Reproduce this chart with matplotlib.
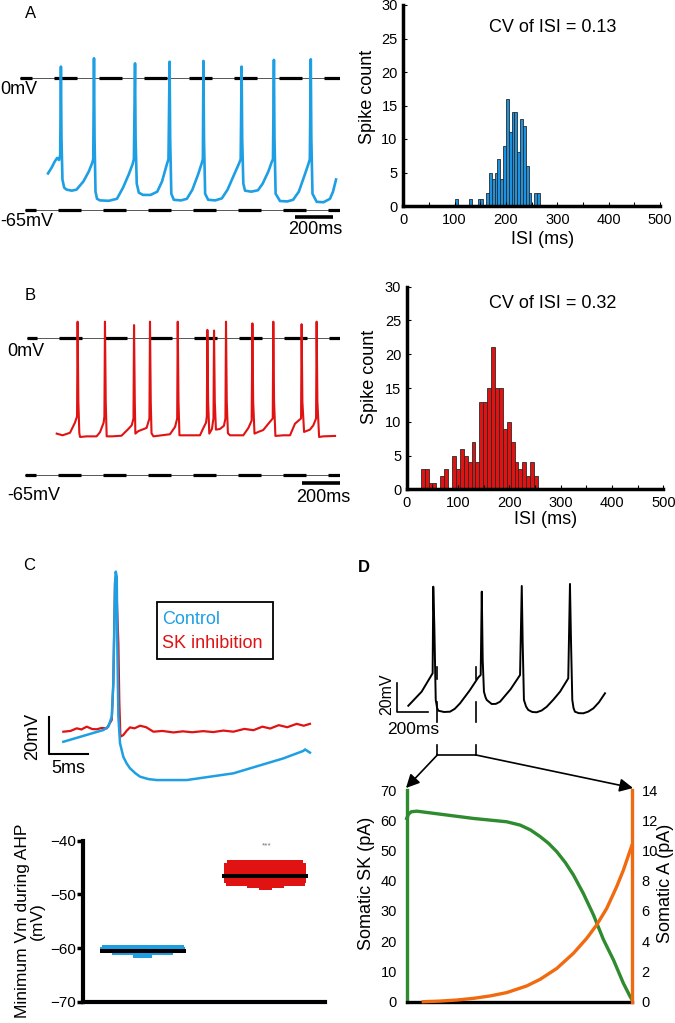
import numpy as np
import matplotlib.pyplot as plt
from matplotlib.patches import Rectangle

plt.rcParams['font.family'] = ['Liberation Sans', 'DejaVu Sans']
plt.rcParams['lines.scale_dashes'] = False

# ---------------- data ----------------
# A: control firing (time ms, membrane potential mV)
trace_a_t = [0, 20, 35, 48, 58, 64, 68, 71, 76, 85, 98, 125, 150, 186, 215, 232, 238,
             242, 245, 250, 258, 274, 320, 363, 395, 425, 445, 452,
             458, 461, 467, 478, 500, 540, 575, 600, 624, 634,
             640, 643, 649, 662, 700, 731, 760, 790, 809, 815,
             818, 821, 827, 843, 880, 915, 945, 980, 1006, 1014,
             1019, 1022, 1028, 1037, 1070, 1105, 1130, 1160, 1177, 1184,
             1189, 1192, 1198, 1221, 1260, 1290, 1320, 1350, 1370, 1378,
             1383, 1386, 1392, 1414, 1450, 1484, 1500, 1516]
trace_a_v = [-47, -44, -41.2, -39.4, -40.4, -38, 5.6, -30, -50, -54, -55, -55.5, -55, -51, -46, -42, -40,
             9.7, -30, -56, -59.5, -60.3, -60.5, -59.5, -54, -47.5, -42.5, -40,
             7.2, -30, -52, -56.5, -57.6, -57.6, -56, -51, -43, -40,
             8.0, -30, -57, -60, -60.3, -59.5, -55, -47.5, -42, -40,
             8.4, -30, -57, -60, -60.3, -59.3, -55, -47.5, -42, -40,
             5.6, -30, -52, -55.5, -56, -55.3, -52, -46, -41.5, -40,
             8.9, -30, -57, -60.6, -60.8, -60, -56, -48, -42.5, -40,
             9.2, -30, -57, -61, -61.2, -59.5, -56, -50]

# B: SK inhibition firing
trace_b_t = [9, 40, 79, 105, 116, 119, 123, 128, 132, 167, 219, 237, 256, 260,
             263, 267, 272, 300, 350, 386, 404, 413, 416, 420, 423, 439, 482, 497,
             500, 504, 508, 518, 605, 632, 643, 646, 650, 655, 693, 763, 781, 795, 799,
             802, 806, 812, 826, 834, 837, 841, 847, 868, 889, 897,
             900, 904, 910, 921, 991, 1018, 1035, 1039, 1043, 1050, 1070, 1096, 1123, 1146,
             1149, 1153, 1160, 1202, 1237, 1263, 1295, 1298, 1302, 1311, 1342, 1360, 1374,
             1377, 1381, 1390, 1412, 1474]
trace_b_v = [-45.2, -46, -44.8, -40, -37, 7.9, -30, -45, -46.8, -46.5, -46.5, -44.5, -40, -37,
             7.9, -30, -46.5, -46.5, -46.2, -43, -41.2, -38, 6.3, -30, -45.2, -44, -42.5, -38,
             7.9, -30, -45, -46.5, -45.5, -42, -38, 7.9, -30, -46, -46, -46, -42.5, -40, -37,
             4.0, -30, -45.2, -43, -38, 3.7, -30, -43.3, -43, -41.5, -38,
             7.9, -30, -45, -46, -46, -42.5, -39, 7.1, -30, -45.2, -44.4, -43.5, -40.5, -38,
             7.9, -30, -46.3, -46, -46, -40.5, -38, 6.7, -30, -44.4, -43.3, -41.2, -38,
             7.9, -30, -46.8, -46.5, -46.3]

# ISI histograms (30 bins over the data range)
hist_a_counts = [1, 0, 0, 0, 0, 1, 0, 0, 1, 1, 0, 2, 5, 4, 5, 7, 4, 9, 16, 11,
                 14, 14, 8, 13, 12, 6, 2, 0, 2, 2]
hist_a_range = (100.7, 266.2)
hist_b_counts = [3, 3, 1, 1, 0, 2, 3, 0, 5, 3, 6, 5, 4, 7, 4, 13, 13, 15, 21, 15,
                 15, 9, 10, 7, 4, 3, 4, 2, 4, 2]
hist_b_range = (27.3, 255.8)
cv_a = 0.13
cv_b = 0.32

# C: single spike, control vs SK inhibition (ms from peak, mV)
c_blue_t = [-6.72, -1.59, -0.95, -0.51, -0.31, -0.09, 0.0, 0.13, 0.21, 0.34, 0.55, 0.97,
            1.4, 1.83, 2.5, 3.12, 4.2, 5.26, 9.1, 15.08, 21.49, 24.05, 24.27, 24.9]
c_blue_v = [-52.4, -46.1, -44.3, -39.0, -21.1, 32.5, 38.7, 36.0, -3.2, -39.0, -53.2, -60.4,
            -64.0, -66.6, -69.2, -71.1, -72.4, -72.9, -72.9, -69.3, -61.3, -57.3, -56.5, -58.2]
c_red_t = [-6.72, -5.8, -5.0, -4.4, -3.72, -3.0, -2.44, -1.8, -1.15, -0.51, -0.31, -0.09, 0.04,
           0.34, 0.46, 0.6, 0.97, 1.4, 1.83, 2.4, 3.12, 3.9, 4.83, 6.0, 7.4, 8.6, 9.8, 11.2, 12.5,
           13.8, 15.08, 16.5, 17.65, 18.8, 19.8, 20.9, 22.0, 23.2, 24.1, 24.9]
c_red_v = [-47.0, -46.6, -45.2, -45.8, -44.3, -45.6, -45.7, -45.0, -45.2, -40.7, -21.0, 32.5,
           36.0, 0.0, -30.9, -49.7, -48.8, -46.5, -44.7, -45.2, -43.8, -44.6, -47.0, -46.6,
           -47.4, -46.8, -47.3, -46.7, -47.2, -46.4, -47.0, -45.5, -46.2, -44.3, -45.3, -43.5,
           -44.6, -42.8, -43.8, -42.8]

# C: minimum Vm during AHP (value rows and number of cells per row)
ctrl_levels = [-59.8, -60.2, -60.6, -61.0, -61.4]
ctrl_counts = [27, 28, 28, 20, 6]
ctrl_mean = -60.5
sk_levels = [-44.0, -44.5, -45.0, -45.5, -46.0, -46.5, -47.0, -47.5, -48.0, -48.4, -48.8]
sk_counts = [25, 27, 27, 27, 27, 27, 27, 27, 26, 12, 4]
sk_mean = -46.5

# D: model trace (ms, mV)
trace_d_t = [0, 86, 157, 161, 168, 177, 186, 194, 230, 269, 300, 334, 395, 452, 467, 474, 480,
             488, 498, 506, 538, 565, 592, 660, 721, 732, 738, 746, 760, 774, 800, 828, 860,
             893, 935, 979, 1032, 1043, 1050, 1058, 1066, 1075, 1100, 1129, 1160, 1194, 1230, 1269]
trace_d_v = [-55.9, -46.2, -33.5, 26.2, -1.4, -51.9, -57.5, -59.3, -60.2, -60, -58, -54.2, -45.5,
             -36.3, -34.7, 22.8, -24.3, -46.2, -50, -51.9, -54.7, -54.6, -53.1, -44.5, -34.7,
             26.7, -12.8, -51.9, -56.5, -58.8, -60.2, -60.4, -59.2, -56.6, -51.8, -46.2, -37,
             28.1, -12.8, -51.9, -57.5, -60, -61, -61.1, -60, -57.7, -53.5, -47.3]

# D: currents during one interspike interval (normalised time)
sk_x = [0.0, 0.008, 0.02, 0.045, 0.15, 0.296, 0.444, 0.504, 0.55, 0.593, 0.63, 0.667, 0.705,
        0.741, 0.785, 0.830, 0.874, 0.919, 0.963, 0.993, 1.0]
sk_y = [60.6, 62.0, 62.8, 63.0, 62.0, 60.6, 59.5, 58.4, 56.8, 54.6, 52.4, 49.6, 46.0,
        41.9, 35.8, 28.7, 20.6, 13.8, 6.1, 1.7, 0.8]
ka_x = [0.074, 0.148, 0.222, 0.296, 0.37, 0.444, 0.533, 0.593, 0.667, 0.741, 0.8, 0.844, 0.889,
        0.933, 0.963, 0.993, 1.0]
ka_y = [0.0, 0.04, 0.11, 0.22, 0.38, 0.6, 1.04, 1.48, 2.2, 3.2, 4.19, 5.07, 6.17, 7.6, 8.7,
        10.0, 10.3]

BLUE = '#1E9FE4'
BAR_BLUE = '#1C93E0'
RED = '#E01212'
GREEN = '#2E8B2E'
ORANGE = '#F06A10'

W, H = 675, 1023
fig = plt.figure(figsize=(W / 100, H / 100), dpi=100)


def px_axes(l, t, r, b):
    return fig.add_axes([l / W, 1 - b / H, (r - l) / W, (b - t) / H])


def ref_line(ax, v, t0, offset_px):
    x1 = ax.get_xlim()[1]
    ax.plot([t0, x1], [v, v], color='#555555', lw=0.7)
    ax.plot([t0, x1], [v, v], color='k', lw=2.3,
            linestyle=(offset_px * 0.72, (23 * 0.72, 22 * 0.72)))


# ---------------- A / B traces ----------------
axA = px_axes(20, 40, 340, 240)
axA.set_xlim(-147.4, 1536.8)
axA.set_ylim(-79.8, 18.7)
axA.axis('off')
ref_line(axA, 0, -147.4, 11)
ref_line(axA, -65, -121, 12)
axA.plot(trace_a_t, trace_a_v, color=BLUE, lw=1.9, solid_joinstyle='round')
axA.plot([1300, 1500], [-68.5, -68.5], color='k', lw=2.6, solid_capstyle='butt')

axB = px_axes(20, 300, 340, 500)
axB.set_xlim(-184.2, 1500)
axB.set_ylim(-76.7, 18.2)
axB.axis('off')
ref_line(axB, 0, -146, 13)
ref_line(axB, -65, -158, 12)
axB.plot(trace_b_t, trace_b_v, color=RED, lw=1.5, solid_joinstyle='round')
axB.plot([1300, 1500], [-68.8, -68.8], color='k', lw=2.6, solid_capstyle='butt')


# ---------------- histograms ----------------
def histo(box, counts, rng, color):
    ax = px_axes(*box)
    edges = np.linspace(rng[0], rng[1], len(counts) + 1)
    ax.bar(edges[:-1], counts, width=np.diff(edges), align='edge', color=color,
           edgecolor='#2a2a2a', linewidth=0.6)
    ax.set_xlim(0, 500)
    ax.set_ylim(0, 30)
    ax.set_xticks(range(0, 501, 100))
    ax.set_xticks(range(50, 500, 100), minor=True)
    ax.set_yticks(range(0, 31, 5))
    for s in ['top', 'right']:
        ax.spines[s].set_visible(False)
    for s in ['left', 'bottom']:
        ax.spines[s].set_linewidth(2.5)
    ax.tick_params(which='both', direction='in', length=3, width=0.8, labelsize=10.5)
    ax.tick_params(axis='x', pad=5)
    ax.tick_params(axis='y', pad=4)
    return ax


histo((403.3, 5, 660, 206), hist_a_counts, hist_a_range, BAR_BLUE)
histo((406.7, 286.7, 663.3, 489.3), hist_b_counts, hist_b_range, RED)

# ---------------- C traces ----------------
axC = px_axes(40, 560, 320, 790)
axC.set_xlim(-9.71, 26.19)
axC.set_ylim(-78.23, 44.97)
axC.axis('off')
axC.plot(c_red_t, c_red_v, color=RED, lw=1.6, solid_joinstyle='round')
axC.plot(c_blue_t, c_blue_v, color=BLUE, lw=1.8, solid_joinstyle='round')
axC.plot([-8.51, -8.51, -3.51], [-38.9, -58.9, -58.9], color='k', lw=1.5)

# ---------------- C scatter ----------------
axS = px_axes(83.3, 840.7, 325, 1001.7)
axS.set_xlim(-0.486, 1.49)
axS.set_ylim(-70, -40)
dx = 0.0245


def swarm(levels, counts, centre):
    xs, ys = [], []
    for v, n in zip(levels, counts):
        offs = (np.arange(n) - (n - 1) / 2) * dx
        xs.extend(centre + offs)
        ys.extend([v] * n)
    return xs, ys


bx, by = swarm(ctrl_levels, ctrl_counts, 0)
rx, ry = swarm(sk_levels, sk_counts, 1)
axS.plot(bx, by, ls='none', marker='s', ms=3.0, mew=0, color=BLUE, clip_on=False)
axS.plot(rx, ry, ls='none', marker='s', ms=3.0, mew=0, color=RED, clip_on=False)
axS.plot([-0.335, 0.335], [ctrl_mean, ctrl_mean], color='k', lw=2.9)
axS.plot([0.665, 1.335], [sk_mean, sk_mean], color='k', lw=2.9)
axS.set_xticks([])
axS.set_yticks([-70, -60, -50, -40])
for s in ['top', 'right']:
    axS.spines[s].set_visible(False)
for s in ['left', 'bottom']:
    axS.spines[s].set_linewidth(3)
axS.tick_params(axis='y', direction='out', length=4, width=2.5, pad=1.5, labelsize=11)

# ---------------- D trace ----------------
axDt = px_axes(380, 570, 620, 770)
axDt.set_xlim(-182.6, 1365.8)
axDt.set_ylim(-100.2, 37.7)
axDt.axis('off')
axDt.plot(trace_d_t, trace_d_v, color='k', lw=1.4, solid_joinstyle='round')
axDt.plot([-71, -71, 129], [-40, -60, -60], color='k', lw=1.2)

# ---------------- D currents ----------------
axD = px_axes(406.7, 790, 631.7, 1001.7)
axD.set_xlim(0, 1)
axD.set_ylim(0, 70)
axD2 = axD.twinx()
axD2.set_ylim(0, 14)
axD.plot(sk_x, sk_y, color=GREEN, lw=2.4, clip_on=False, zorder=5)
axD2.plot(ka_x, ka_y, color=ORANGE, lw=2.4, clip_on=False, zorder=5)
for s in ['top', 'right']:
    axD.spines[s].set_visible(False)
for s in ['top', 'left', 'bottom']:
    axD2.spines[s].set_visible(False)
axD.spines['left'].set_color(GREEN)
axD.spines['left'].set_linewidth(2.4)
axD.spines['bottom'].set_linewidth(2.4)
axD2.spines['right'].set_color(ORANGE)
axD2.spines['right'].set_linewidth(2.4)
axD.set_xticks([])
axD.set_yticks(range(0, 71, 10))
axD2.set_yticks(range(0, 15, 2))
axD.tick_params(axis='y', length=0, pad=7, labelsize=10.5)
axD2.tick_params(axis='y', length=0, pad=7, labelsize=10.5)

# ---------------- text and annotations (figure pixels) ----------------
ov = px_axes(0, 0, W, H)
ov.set_xlim(0, W)
ov.set_ylim(H, 0)
ov.axis('off')
ov.set_zorder(10)

FS = 13
ov.text(25, 14, 'A', fontsize=12, va='center')
ov.text(25, 296, 'B', fontsize=12, va='center')
ov.text(23, 566, 'C', fontsize=12, va='center')
ov.text(358, 568, 'D', fontsize=12, fontweight='bold', va='center')

ov.text(0, 90, '0mV', fontsize=FS, va='center')
ov.text(0, 222, '-65mV', fontsize=FS, va='center')
ov.text(288, 230, '200ms', fontsize=FS, va='center')
ov.text(7, 352, '0mV', fontsize=FS, va='center')
ov.text(7, 495, '-65mV', fontsize=FS, va='center')
ov.text(296, 497, '200ms', fontsize=FS, va='center')

ov.text(552.5, 27.5, f'CV of ISI = {cv_a}', fontsize=FS, ha='center', va='center')
ov.text(552.5, 304, f'CV of ISI = {cv_b}', fontsize=FS, ha='center', va='center')
ov.text(368, 97, 'Spike count', fontsize=FS, rotation=90, ha='center', va='center')
ov.text(542.5, 240, 'ISI (ms)', fontsize=FS, ha='center', va='center')
ov.text(370, 377, 'Spike count', fontsize=FS, rotation=90, ha='center', va='center')
ov.text(546, 520, 'ISI (ms)', fontsize=FS, ha='center', va='center')

ov.add_patch(Rectangle((156.7, 601.7), 116.6, 57.6, fill=False, lw=1.3, ec='k'))
ov.text(162.5, 620, 'Control', fontsize=FS, color=BLUE, va='center')
ov.text(162.5, 643, 'SK inhibition', fontsize=FS, color=RED, va='center')
ov.text(33, 736.7, '20mV', fontsize=FS, rotation=90, ha='center', va='center')
ov.text(68, 768.5, '5ms', fontsize=FS, ha='center', va='center')

ov.text(30, 921, 'Minimum Vm during AHP\n(mV)', fontsize=12.5, rotation=90,
        ha='center', va='center', multialignment='center', linespacing=0.95)
ov.text(267, 846, '***', fontsize=6, color='#777777', ha='center', va='center')

ov.text(386.5, 694, '20mV', fontsize=11.5, rotation=90, ha='center', va='center')
ov.text(413, 730, '200ms', fontsize=12.5, ha='center', va='center')
ov.text(366.7, 883, 'Somatic SK (pA)', fontsize=FS, rotation=90, ha='center', va='center')
ov.text(665, 883, 'Somatic A (pA)', fontsize=FS, rotation=90, ha='center', va='center')

for x in (437.3, 476):
    for y0, y1 in ((667, 679), (702, 722), (745, 755)):
        ov.plot([x, x], [y0, y1], color='k', lw=1.2)
ov.plot([437.3, 476], [755, 755], color='k', lw=1.2)
ov.annotate('', xy=(406, 788), xytext=(437.3, 755),
            arrowprops=dict(arrowstyle='-|>', color='k', lw=1.2, mutation_scale=20,
                            shrinkA=0, shrinkB=0))
ov.annotate('', xy=(633, 788), xytext=(476, 755),
            arrowprops=dict(arrowstyle='-|>', color='k', lw=1.2, mutation_scale=20,
                            shrinkA=0, shrinkB=0))

fig.savefig('out.png', dpi=100)
